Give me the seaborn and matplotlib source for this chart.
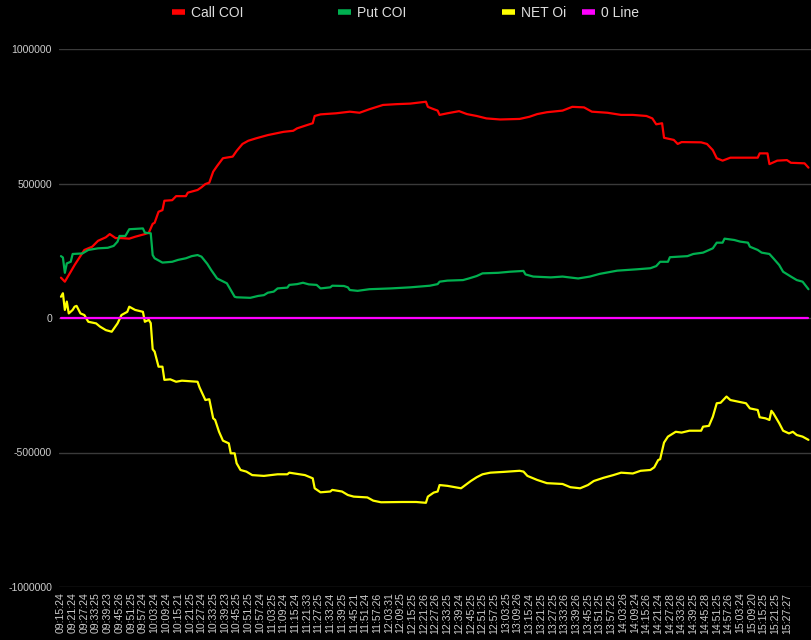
import matplotlib
matplotlib.use("Agg")
import matplotlib.pyplot as plt
import seaborn as sns
from matplotlib.lines import Line2D

# ---------------- data (minute offset from 09:15:24, value) ----------------
call_min = [0,2,5,7,12,16,19,23,25,28,31,35,38,43,45,47,48,50,52,53,57,59,64,65,70,72,74,76,78,80,
            83,88,90,93,96,100,106,114,119,121,126,129,130,133,141,148,153,158,165,172,179,187,188,190,193,194,198,204,208,213,
            218,225,235,240,244,249,257,262,268,272,280,287,293,300,303,305,308,309,314,316,318,328,331,334,336,339,343,357,358,362,
            363,367,372,374,381,383]
call_val = [150000,135000,172000,197000,253000,265000,287000,300000,312000,297000,297000,295000,302000,312000,317000,350000,354000,395000,401000,436000,
            438000,453000,453000,466000,476000,486000,498000,503000,544000,565000,594000,600000,621000,647000,659000,668000,680000,692000,696000,705000,
            717000,724000,751000,757000,761000,767000,763000,776000,792000,795000,797000,804000,785000,779000,771000,755000,761000,769000,758000,751000,
            742000,738000,740000,748000,758000,765000,771000,785000,783000,767000,763000,755000,755000,751000,742000,720000,724000,670000,662000,647000,
            654000,653000,647000,624000,594000,585000,596000,596000,612000,612000,572000,585000,587000,577000,575000,559000]

put_min = [0,1,2,3,5,6,11,14,19,24,27,29,30,33,35,42,43,46,47,48,52,57,60,64,67,70,72,75,77,80,85,
           87,89,90,97,101,104,106,109,111,116,117,121,124,127,131,133,138,139,145,147,148,152,158,169,179,189,193,194,198,206,
           209,213,216,224,230,237,238,242,251,257,265,271,276,285,295,302,305,307,311,312,321,324,329,334,336,339,340,345,348,352,
           353,357,359,363,365,368,370,374,377,380,383]
put_val = [230000,225000,168000,203000,209000,238000,240000,253000,259000,261000,268000,284000,305000,305000,330000,333000,317000,315000,234000,222000,206000,
           209000,216000,222000,230000,234000,228000,201000,178000,147000,129000,104000,79000,77000,75000,82000,85000,94000,98000,110000,113000,
           123000,126000,131000,125000,123000,110000,114000,120000,119000,114000,104000,101000,107000,110000,114000,120000,126000,135000,139000,141000,
           147000,156000,166000,168000,172000,175000,162000,154000,151000,154000,147000,154000,164000,176000,181000,185000,193000,209000,209000,226000,
           230000,238000,243000,259000,280000,280000,295000,290000,284000,280000,265000,253000,243000,238000,222000,197000,172000,154000,141000,135000,
           107000]

net_min = [0,1,2,3,4,6,7,8,10,12,14,18,20,23,26,29,31,34,35,38,42,43,45,46,47,48,50,52,53,56,
           59,62,70,71,74,76,78,79,81,83,86,87,89,90,92,95,98,104,111,116,117,125,129,130,133,138,139,144,147,150,
           157,160,164,175,182,187,188,191,193,194,198,205,210,213,216,220,227,235,237,239,244,249,257,261,266,270,273,278,283,287,
           293,297,302,304,306,307,309,311,315,318,322,328,329,332,334,336,338,341,343,347,351,353,357,358,361,363,364,365,368,370,
           373,375,377,380,383]
net_val = [79000,92000,30000,61000,17000,30000,42000,45000,17000,11000,-14000,-20000,-32000,-45000,-51000,-20000,11000,23000,42000,30000,
           23000,-14000,-7000,-19000,-116000,-125000,-181000,-181000,-230000,-228000,-237000,-233000,-237000,-258000,-305000,-302000,-373000,-379000,-423000,-456000,
           -466000,-503000,-503000,-540000,-565000,-571000,-584000,-587000,-581000,-581000,-575000,-584000,-596000,-633000,-648000,-645000,-639000,-645000,-658000,-664000,
           -667000,-679000,-685000,-684000,-684000,-687000,-664000,-649000,-645000,-621000,-624000,-633000,-606000,-592000,-581000,-575000,-572000,-568000,-571000,-587000,
           -602000,-614000,-617000,-629000,-633000,-621000,-606000,-594000,-584000,-575000,-578000,-568000,-565000,-555000,-528000,-525000,-463000,-441000,-423000,-426000,
           -419000,-419000,-404000,-401000,-367000,-317000,-315000,-292000,-305000,-311000,-317000,-336000,-342000,-369000,-373000,-379000,-345000,-354000,-391000,-419000,
           -429000,-423000,-435000,-441000,-453000]

zero_min = [0, 383]
zero_val = [0, 0]

tick_labels = ["09:15:24","09:21:24","09:27:24","09:33:25","09:39:23","09:45:26","09:51:25","09:57:24",
               "10:03:24","10:09:24","10:15:21","10:21:25","10:27:24","10:33:25","10:39:23","10:45:25","10:51:25","10:57:24",
               "11:03:25","11:09:24","11:15:24","11:21:33","11:27:25","11:33:24","11:39:25","11:45:21","11:51:24","11:57:26",
               "12:03:31","12:09:25","12:15:25","12:21:26","12:27:26","12:33:25","12:39:24","12:45:25","12:51:25","12:57:25",
               "13:03:25","13:09:26","13:15:24","13:21:25","13:27:25","13:33:26","13:39:26","13:45:25","13:51:25","13:57:25",
               "14:03:26","14:09:24","14:15:26","14:21:24","14:27:28","14:33:26","14:39:25","14:45:28","14:51:25","14:57:26",
               "15:03:24","15:09:20","15:15:25","15:21:25","15:27:27"]
y_ticks = [-1000000, -500000, 0, 500000, 1000000]

series_names = ["Call COI", "Put COI", "NET Oi", "0 Line"]
colors = ["#ff0000", "#00b050", "#ffff00", "#ff00ff"]

# ---------------- plot ----------------
sns.set_theme(style="dark")
plt.rcParams["font.family"] = ["Liberation Sans", "DejaVu Sans"]

fig = plt.figure(figsize=(8.11, 6.40), dpi=100, facecolor="black")
ax = fig.add_axes([59/811, 53/640, 752/811, 538/640])
ax.set_facecolor("black")

for y in y_ticks:
    ax.axhline(y, color="#3a3a3a", lw=1.0, zorder=0)

sns.lineplot(x=call_min, y=call_val, color=colors[0], lw=1.6, ax=ax, zorder=3)
sns.lineplot(x=put_min, y=put_val, color=colors[1], lw=1.6, ax=ax, zorder=3)
sns.lineplot(x=net_min, y=net_val, color=colors[2], lw=1.6, ax=ax, zorder=3)
sns.lineplot(x=zero_min, y=zero_val, color=colors[3], lw=1.6, ax=ax, zorder=4)

ax.set_xlim(-1.0, 384.3)
ax.set_ylim(-1000000, 1000000)
ax.set_yticks(y_ticks)
ax.set_yticklabels([str(v) for v in y_ticks])
ax.set_xticks(list(range(0, 6 * len(tick_labels), 6)))
ax.set_xticklabels(tick_labels, rotation=90)
ax.tick_params(axis="both", colors="#cccccc", labelsize=7.6, length=0, pad=4)
ax.tick_params(axis="y", pad=5)
ax.grid(False)
ax.set_xlabel("")
ax.set_ylabel("")
for s in ax.spines.values():
    s.set_visible(False)

# legend entries placed individually along the top
legend_x = [172/811, 338/811, 502/811, 582/811]
for name, col, lx in zip(series_names, colors, legend_x):
    h = Line2D([0], [0], color=col, lw=4, solid_capstyle="butt")
    fig.legend(handles=[h], labels=[name], loc="center left",
               bbox_to_anchor=(lx, 1 - 13/640), frameon=False,
               handlelength=0.9, handletextpad=0.5, borderaxespad=0,
               borderpad=0, fontsize=10, labelcolor="#dddddd")

fig.savefig("out.png", dpi=100, facecolor="black")
